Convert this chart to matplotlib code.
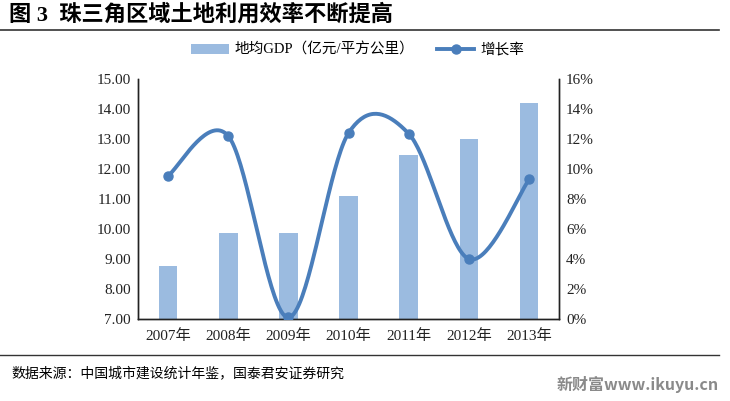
import numpy as np
import matplotlib
matplotlib.use("Agg")
import matplotlib.pyplot as plt
from matplotlib.lines import Line2D
from matplotlib.patches import Patch

plt.rcParams['font.family'] = ['Liberation Serif', 'Noto Sans CJK SC']

years = ["2007年", "2008年", "2009年", "2010年", "2011年", "2012年", "2013年"]
gdp_density = [8.75, 9.85, 9.87, 11.10, 12.47, 13.00, 14.20]
growth = [9.55, 12.2, 0.1, 12.4, 12.35, 4.0, 9.3]

bar_color = "#9bbbe0"
line_color = "#4a7ebb"


def smooth(xs, ys, n=40):
    # bezier smoothing like excel's "smoothed line"
    pts = np.column_stack([xs, ys]).astype(float)
    ext = np.vstack([pts[0], pts, pts[-1]])
    out = []
    for i in range(len(pts) - 1):
        p0, p3 = ext[i + 1], ext[i + 2]
        c1 = p0 + (ext[i + 2] - ext[i]) / 6
        c2 = p3 - (ext[i + 3] - ext[i + 1]) / 6
        t = np.linspace(0, 1, n)[:, None]
        seg = (1 - t) ** 3 * p0 + 3 * (1 - t) ** 2 * t * c1 + 3 * (1 - t) * t ** 2 * c2 + t ** 3 * p3
        out.append(seg if i == 0 else seg[1:])
    out = np.vstack(out)
    return out[:, 0], out[:, 1]


fig = plt.figure(figsize=(7.3, 4.01), dpi=100)
ax = fig.add_axes([0.189, 0.2045, 0.577, 0.5985])
ax2 = ax.twinx()

x = np.arange(len(years))
ax.bar(x, gdp_density, width=0.31, color=bar_color, zorder=2)
ax.set_ylim(7, 15)
ax.set_yticks(np.arange(7, 15.01, 1))
ax.set_yticklabels([f"{v:.2f}" for v in np.arange(7, 15.01, 1)])
ax.set_xlim(-0.5, len(years) - 0.5)
ax.set_xticks(x)
ax.set_xticklabels(years)

sx, sy = smooth(x, growth)
ax2.plot(sx, sy, color=line_color, lw=2.8, zorder=3)
ax2.plot(x, growth, 'o', color=line_color, ms=6.5, zorder=4)
ax2.set_ylim(0, 16)
ax2.set_yticks(np.arange(0, 16.1, 2))
ax2.set_yticklabels([f"{int(v)}%" for v in np.arange(0, 16.1, 2)])

for a in (ax, ax2):
    a.spines['top'].set_visible(False)
    for s in ('left', 'right', 'bottom'):
        a.spines[s].set_color("#222222")
        a.spines[s].set_linewidth(1.0)
    a.tick_params(length=0, labelsize=11, colors="#222222", pad=5)
ax.tick_params(axis='x', pad=7)

handles = [Patch(facecolor=bar_color, edgecolor='none'),
           Line2D([0], [0], color=line_color, lw=2.8, marker='o', ms=6.5)]
labels = ["地均GDP（亿元/平方公里）", "增长率"]
fig.legend(handles, labels, loc='center', bbox_to_anchor=(0.49, 0.876), ncol=2,
           frameon=False, handlelength=2.6, columnspacing=1.5, handletextpad=0.4,
           prop={'family': ['Liberation Serif', 'Noto Sans CJK SC'], 'size': 10.5})

fig.text(0.012, 0.962, "图 3  珠三角区域土地利用效率不断提高", fontsize=16, fontweight='bold',
         va='center', ha='left', family=['Liberation Serif', 'Noto Sans CJK SC'])
fig.add_artist(Line2D([0.0, 0.985], [0.925, 0.925], color="#333333", lw=1.2, transform=fig.transFigure))
fig.add_artist(Line2D([0.0, 0.985], [0.115, 0.115], color="#333333", lw=1.0, transform=fig.transFigure))
fig.text(0.016, 0.07, "数据来源：中国城市建设统计年鉴，国泰君安证券研究", fontsize=10,
         va='center', ha='left', family=['Noto Sans CJK SC'])
fig.text(0.985, 0.04, "新财富www.ikuyu.cn", fontsize=11.5, fontweight='bold', color="#8a8a8a",
         va='center', ha='right', family=['Noto Sans CJK SC'])

fig.savefig("out.png", dpi=100)
